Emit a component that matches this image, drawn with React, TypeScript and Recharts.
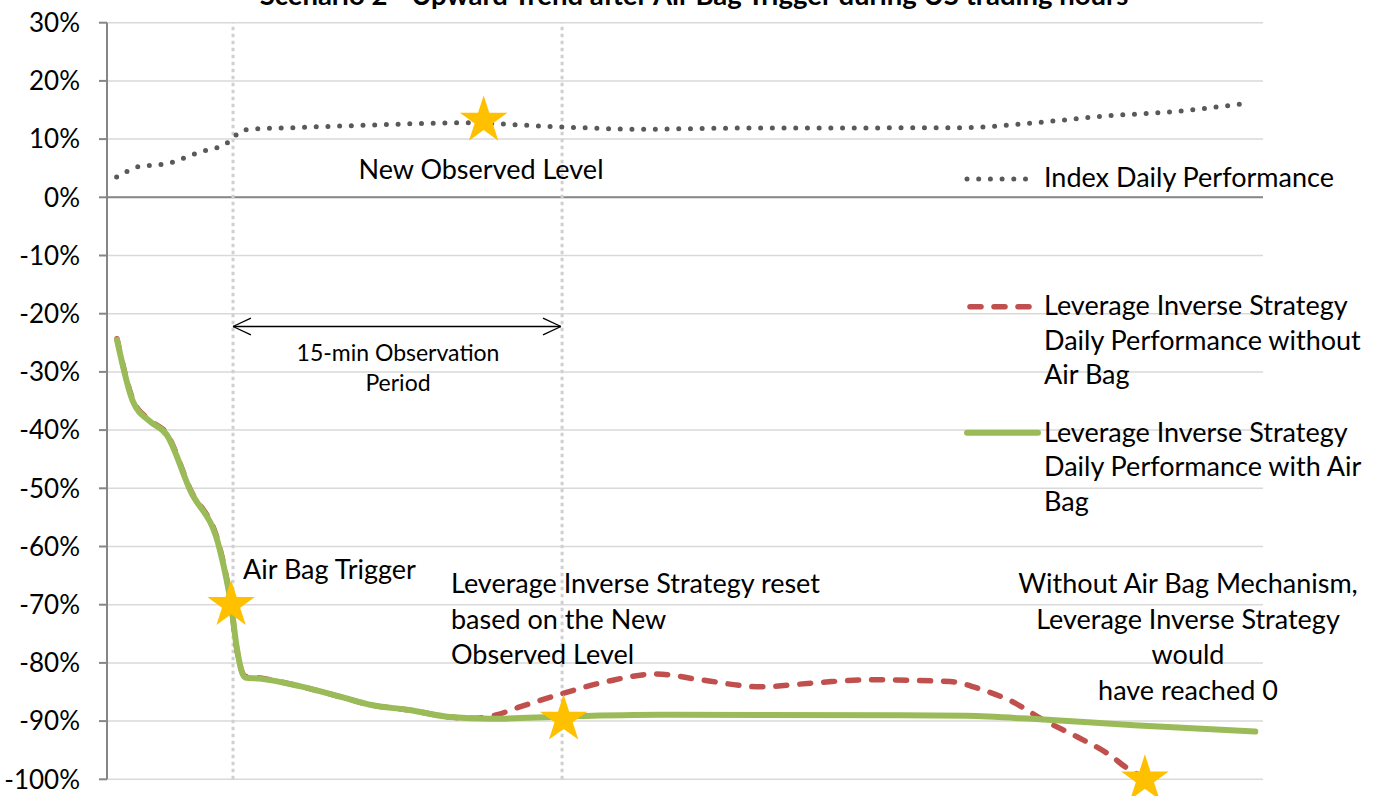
import React from "react";
import {
  ComposedChart,
  Line,
  Scatter,
  XAxis,
  YAxis,
  CartesianGrid,
  ReferenceLine,
  Legend,
} from "recharts";

const W = 1379;
const H = 796;
const FONT = "Lato, 'Noto Sans', sans-serif";

// time position (chart units) and performance in %
const indexT = [0.5, 1.07, 1.68, 2.32, 2.92, 3.57, 4.17, 4.77, 5.38, 5.98, 6.5, 6.95, 7.56, 10.0, 14.5, 18.3, 23.5, 27.7, 33.0, 44.3, 48.1, 51.9, 55.3, 58.8];
const indexV = [3.5, 4.5, 5.3, 5.5, 5.7, 6.2, 7.0, 7.7, 8.3, 8.8, 10.0, 11.4, 11.7, 12.0, 12.5, 12.8, 12.1, 11.7, 11.9, 11.95, 12.8, 14.0, 14.7, 16.0];

const withBagT = [0.52, 1.35, 2.23, 3.1, 4.31, 5.86, 6.44, 6.75, 7.16, 7.94, 10.0, 12.1, 13.65, 15.7, 17.8, 19.9, 23.7, 28.7, 41.2, 44.6, 48.4, 53.3, 59.6];
const withBagV = [-24.5, -35.1, -38.5, -40.8, -50.3, -60.6, -70, -77.7, -82.5, -82.7, -84.0, -85.8, -87.2, -88.1, -89.3, -89.6, -89.2, -88.9, -89.0, -89.1, -89.7, -90.7, -91.8];

const noBagT = [0.52, 1.35, 2.23, 3.1, 4.31, 5.86, 6.44, 6.75, 7.16, 7.94, 10.0, 12.1, 13.65, 15.7, 17.8, 19.0, 20.24, 21.3, 23.5, 25.95, 28.5, 30.8, 33.9, 36.85, 39.45, 43.75, 45.5, 46.9, 48.6, 50.35, 51.9, 53.1, 53.6];
const noBagV = [-24.3, -34.8, -38.3, -40.6, -50.1, -60.3, -70, -77.9, -82.3, -82.6, -84.0, -85.8, -87.2, -88.1, -89.3, -89.5, -88.9, -87.7, -85.4, -83.2, -81.9, -82.9, -84.1, -83.4, -82.9, -83.2, -84.7, -86.5, -89.8, -92.7, -95.5, -98.4, -99.3];

const starT = [6.44, 19.55, 23.7, 53.87];
const starV = [-70, 13.2, -89.7, -100];

const yTicks = [-100, -90, -80, -70, -60, -50, -40, -30, -20, -10, 0, 10, 20, 30];

const triggerT = 6.54;
const observedT = 23.62;
const arrowY = -22.2;

const rows = (ts: number[], vs: number[]) => ts.map((t, i) => ({ t, v: vs[i] }));

const indexData = rows(indexT, indexV);
const withBagData = rows(withBagT, withBagV);
const noBagData = rows(noBagT, noBagV);
const starData = rows(starT, starV);

const STYLES: Record<string, any> = {
  index: { stroke: "#595959", strokeWidth: 5, strokeDasharray: "0 11.7", strokeLinecap: "round" },
  noBag: { stroke: "#C0504D", strokeWidth: 5.5, strokeDasharray: "11 13", strokeLinecap: "round" },
  withBag: { stroke: "#9BBB59", strokeWidth: 6, strokeLinecap: "round" },
};

const legendText: Record<string, string[]> = {
  index: ["Index Daily Performance"],
  noBag: ["Leverage Inverse Strategy", "Daily Performance without", "Air Bag"],
  withBag: ["Leverage Inverse Strategy", "Daily Performance with Air", "Bag"],
};

const Star = (props: any) => {
  const { cx, cy } = props;
  const R = 25;
  const r = R * 0.382;
  const pts: string[] = [];
  for (let k = 0; k < 10; k++) {
    const rad = k % 2 === 0 ? R : r;
    const a = -Math.PI / 2 + (k * Math.PI) / 5;
    pts.push(`${cx + rad * Math.cos(a)},${cy + rad * Math.sin(a)}`);
  }
  return <polygon points={pts.join(" ")} fill="#FFC000" />;
};

const LegendBox = () => {
  const items = [
    { key: "index", y: 19, x1: 17, x2: 82, base: 27 },
    { key: "noBag", y: 146.7, x1: 20, x2: 81, base: 155 },
    { key: "withBag", y: 272.7, x1: 17, x2: 88, base: 281.7 },
  ];
  return (
    <svg width={420} height={370} style={{ overflow: "visible" }}>
      {items.map((it) => (
        <g key={it.key}>
          <line x1={it.x1} y1={it.y} x2={it.x2} y2={it.y} fill="none" {...STYLES[it.key]} />
          {legendText[it.key].map((s, i) => (
            <text key={i} x={94} y={it.base + i * 34.5} fontSize={27} fontFamily={FONT} fill="#000">
              {s}
            </text>
          ))}
        </g>
      ))}
    </svg>
  );
};

const txt = { fontFamily: FONT, fontSize: 27, fill: "#000" };

export default function App() {
  return (
    <div style={{ position: "absolute", left: 0, top: 0, width: W, height: H, background: "#fff", overflow: "hidden" }}>
      <ComposedChart width={W} height={H} margin={{ top: 22.7, right: 116, bottom: 16.7, left: 0 }}>
        <CartesianGrid vertical={false} stroke="#D9D9D9" strokeWidth={1.5} />
        <XAxis dataKey="t" type="number" domain={[0, 60]} hide />
        <YAxis
          type="number"
          domain={[-100, 30]}
          ticks={yTicks}
          width={107}
          tickSize={8}
          tickMargin={19}
          interval={0}
          tickFormatter={(v: number) => `${v}%`}
          axisLine={{ stroke: "#868686", strokeWidth: 2 }}
          tickLine={{ stroke: "#868686", strokeWidth: 2 }}
          tick={{ fill: "#000", fontSize: 26, fontFamily: FONT }}
        />
        <ReferenceLine y={0} stroke="#868686" strokeWidth={2} />
        <ReferenceLine x={triggerT} stroke="#D0D0D0" strokeWidth={3} strokeDasharray="3.5 3.5" />
        <ReferenceLine x={observedT} stroke="#D0D0D0" strokeWidth={3} strokeDasharray="3.5 3.5" />
        <ReferenceLine segment={[{ x: triggerT, y: arrowY }, { x: observedT - 0.06, y: arrowY }]} stroke="#000" strokeWidth={1.3} />
        <ReferenceLine segment={[{ x: triggerT, y: arrowY }, { x: triggerT + 0.93, y: arrowY + 1.44 }]} stroke="#000" strokeWidth={1.3} />
        <ReferenceLine segment={[{ x: triggerT, y: arrowY }, { x: triggerT + 0.93, y: arrowY - 1.44 }]} stroke="#000" strokeWidth={1.3} />
        <ReferenceLine segment={[{ x: observedT - 0.06, y: arrowY }, { x: observedT - 0.99, y: arrowY + 1.44 }]} stroke="#000" strokeWidth={1.3} />
        <ReferenceLine segment={[{ x: observedT - 0.06, y: arrowY }, { x: observedT - 0.99, y: arrowY - 1.44 }]} stroke="#000" strokeWidth={1.3} />
        <Line
          data={indexData}
          dataKey="v"
          name="index"
          type="monotone"
          dot={false}
          activeDot={false}
          isAnimationActive={false}
          {...STYLES.index}
        />
        <Line
          data={noBagData}
          dataKey="v"
          name="noBag"
          type="monotone"
          dot={false}
          activeDot={false}
          isAnimationActive={false}
          {...STYLES.noBag}
        />
        <Line
          data={withBagData}
          dataKey="v"
          name="withBag"
          type="monotone"
          dot={false}
          activeDot={false}
          isAnimationActive={false}
          {...STYLES.withBag}
        />
        <Scatter data={starData} dataKey="v" shape={<Star />} legendType="none" isAnimationActive={false} />
        <Legend
          layout="horizontal"
          align="center"
          verticalAlign="middle"
          content={<LegendBox />}
          wrapperStyle={{ left: 950, top: 160, width: 420, height: 370 }}
        />
      </ComposedChart>
      <svg width={W} height={H} style={{ position: "absolute", left: 0, top: 0, pointerEvents: "none" }}>
        <text x={694} y={5} textAnchor="middle" fontFamily={FONT} fontSize={27.5} fontWeight={700} fill="#000">
          Scenario 2 - Upward Trend after Air Bag Trigger during US trading hours
        </text>
        <text x={481} y={178.5} textAnchor="middle" {...txt}>New Observed Level</text>
        <text x={398} y={361} textAnchor="middle" {...txt} fontSize={23}>15-min Observation</text>
        <text x={398} y={391} textAnchor="middle" {...txt} fontSize={23}>Period</text>
        <text x={243} y={579} {...txt}>Air Bag Trigger</text>
        <text x={451} y={593} {...txt}>Leverage Inverse Strategy reset</text>
        <text x={451} y={629} {...txt}>based on the New</text>
        <text x={451} y={664} {...txt}>Observed Level</text>
        <text x={1188} y={593} textAnchor="middle" {...txt}>Without Air Bag Mechanism,</text>
        <text x={1188} y={629} textAnchor="middle" {...txt}>Leverage Inverse Strategy</text>
        <text x={1188} y={664} textAnchor="middle" {...txt}>would</text>
        <text x={1188} y={700} textAnchor="middle" {...txt}>have reached 0</text>
      </svg>
    </div>
  );
}
